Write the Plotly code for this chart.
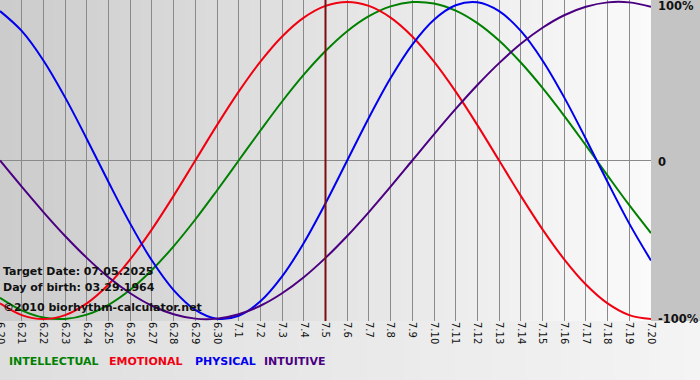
import plotly.graph_objects as go

# ---------------- data ----------------
dates = ["6.20", "6.21", "6.22", "6.23", "6.24", "6.25", "6.26", "6.27", "6.28", "6.29", "6.30",
         "7.1", "7.2", "7.3", "7.4", "7.5", "7.6", "7.7", "7.8", "7.9", "7.10",
         "7.11", "7.12", "7.13", "7.14", "7.15", "7.16", "7.17", "7.18", "7.19", "7.20"]

intellectual = [-0.866, -0.945, -0.990, -0.999, -0.972, -0.910, -0.815, -0.690, -0.541, -0.372, -0.189,
                0.000, 0.189, 0.372, 0.541, 0.690, 0.815, 0.910, 0.972, 0.999, 0.990,
                0.945, 0.866, 0.756, 0.618, 0.458, 0.282, 0.095, -0.095, -0.282, -0.458]

emotional = [-0.901, -0.975, -1.000, -0.975, -0.901, -0.782, -0.623, -0.434, -0.223, 0.000, 0.223,
             0.434, 0.623, 0.782, 0.901, 0.975, 1.000, 0.975, 0.901, 0.782, 0.623,
             0.434, 0.223, 0.000, -0.223, -0.434, -0.623, -0.782, -0.901, -0.975, -1.000]

physical = [0.942, 0.817, 0.631, 0.398, 0.136, -0.136, -0.398, -0.631, -0.817, -0.942, -0.998,
            -0.979, -0.888, -0.731, -0.520, -0.270, 0.000, 0.270, 0.520, 0.731, 0.888,
            0.979, 0.998, 0.942, 0.817, 0.631, 0.398, 0.136, -0.136, -0.398, -0.631]

intuitive = [0.000, -0.165, -0.325, -0.476, -0.614, -0.736, -0.837, -0.916, -0.969, -0.997, -0.997,
             -0.969, -0.916, -0.837, -0.736, -0.614, -0.476, -0.325, -0.165, 0.000, 0.165,
             0.325, 0.476, 0.614, 0.736, 0.837, 0.916, 0.969, 0.997, 0.997, 0.969]

target_date = "7.5"
target_text = "Target Date: 07.05.2025"
birth_text = "Day of birth: 03.29.1964"
credit_text = "©2010 biorhythm-calculator.net"
y_labels = ["100%", "0", "-100%"]
y_label_vals = [1, 0, -1]

series = [("INTELLECTUAL", intellectual, "#008000"),
          ("EMOTIONAL", emotional, "#f00010"),
          ("PHYSICAL", physical, "#0000ee"),
          ("INTUITIVE", intuitive, "#4b0082")]

# ---------------- layout geometry ----------------
W, H = 700, 380
ML, MR, MT, MB = 0, 49, 0, 59
PW, PH = W - ML - MR, H - MT - MB
FONT = "DejaVu Sans"


def py2paper(py):
    return (PH - (py - MT)) / PH


def px2paper(px):
    return (px - ML) / PW


fig = go.Figure()

for name, vals, col in series:
    fig.add_trace(go.Scatter(x=dates, y=vals, mode="lines", name=name,
                             line=dict(color=col, width=2, shape="spline", smoothing=1),
                             hoverinfo="skip"))

shapes = []
# plot area background gradient (dark left -> light right)
n = 60
c0, c1 = 204, 250
for i in range(n):
    v = int(round(c0 + (c1 - c0) * i / (n - 1)))
    shapes.append(dict(type="rect", xref="paper", yref="paper",
                       x0=i / n, x1=(i + 1) / n + 0.002, y0=0, y1=1,
                       fillcolor=f"rgb({v},{v},{v})", line=dict(width=0), layer="below"))
# right grey strip
shapes.append(dict(type="rect", xref="paper", yref="paper",
                   x0=1, x1=px2paper(W + 2), y0=0, y1=py2paper(-2),
                   fillcolor="#c4c4c4", line=dict(width=0), layer="below"))
# bottom strip gradient
m = 40
b0, b1 = 222, 244
for i in range(m):
    v = int(round(b0 + (b1 - b0) * i / (m - 1)))
    shapes.append(dict(type="rect", xref="paper", yref="paper",
                       x0=px2paper(-2 + (W + 4) * i / m), x1=px2paper(-2 + (W + 4) * (i + 1) / m + 1),
                       y0=py2paper(H + 2), y1=0,
                       fillcolor=f"rgb({v},{v},{v})", line=dict(width=0), layer="below"))
# target date line
ti = dates.index(target_date)
shapes.append(dict(type="line", xref="x", yref="paper", x0=ti, x1=ti, y0=0, y1=1,
                   line=dict(color="#7a0f0f", width=2), layer="above"))

annotations = []
# info texts
for txt, py in [(target_text, 271), (birth_text, 287), (credit_text, 307)]:
    annotations.append(dict(text=f"<b>{txt}</b>", xref="paper", yref="paper",
                            x=px2paper(1), y=py2paper(py), xanchor="left", yanchor="middle",
                            showarrow=False, font=dict(family=FONT, size=11, color="#111111")))
# y labels
for lab, yv in zip(y_labels, y_label_vals):
    annotations.append(dict(text=f"<b>{lab}</b>", xref="paper", yref="y",
                            x=1, y=yv, xanchor="left", yanchor="middle", xshift=5,
                            yshift=-4 if yv == 1 else (-1 if yv == 0 else 0),
                            showarrow=False, font=dict(family=FONT, size=11.5, color="#111111")))
# legend row
leg_x = [7, 107, 193, 262]
for (name, vals, col), lx in zip(series, leg_x):
    annotations.append(dict(text=f"<b>{name}</b>", xref="paper", yref="paper",
                            x=px2paper(lx), y=py2paper(361), xanchor="left", yanchor="middle",
                            showarrow=False, font=dict(family=FONT, size=11, color=col)))

fig.update_layout(
    width=W, height=H,
    margin=dict(l=ML, r=MR, t=MT, b=MB, pad=0, autoexpand=False),
    paper_bgcolor="#e6e6e6",
    plot_bgcolor="rgba(0,0,0,0)",
    showlegend=False,
    shapes=shapes,
    annotations=annotations,
    xaxis=dict(type="category", range=[0, len(dates) - 1], showgrid=True,
               gridcolor="#8a8a8a", gridwidth=1, tickangle=90, automargin=False,
               tickfont=dict(family=FONT, size=10, color="#111111"),
               ticks="", showline=False, zeroline=False, fixedrange=True),
    yaxis=dict(range=[-1.012, 1.012], showgrid=False, zeroline=True, automargin=False,
               zerolinecolor="#8a8a8a", zerolinewidth=1, showticklabels=False,
               ticks="", showline=False, fixedrange=True),
)

fig.write_html("out.html", config={"displayModeBar": False},
               post_script="document.body.style.margin='0';document.body.style.overflow='hidden';")
